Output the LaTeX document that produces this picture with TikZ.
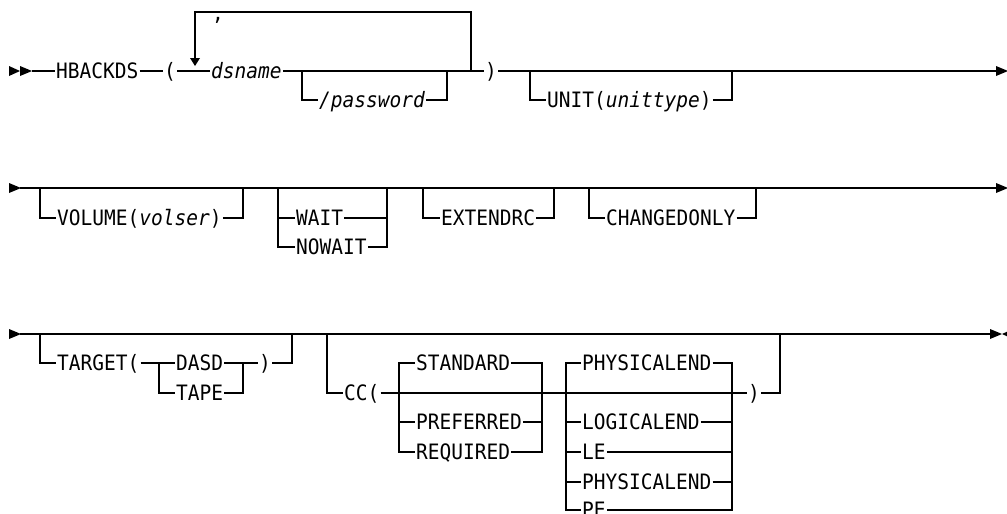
\documentclass[tikz,border=0pt]{standalone}
\usepackage{fontspec}
\setmonofont{DejaVu Sans Mono}[ItalicFont=* Oblique, FakeStretch=0.92]
\usetikzlibrary{arrows}

\tikzset{
  rail/.style={line width=1.2pt},
  tri/.style={fill=black},
  word/.style={inner xsep=1pt, inner ysep=0pt, anchor=west,
    text height=15.5pt, text depth=0pt,
    font=\ttfamily\fontsize{21.2}{22}\selectfont}
}

\begin{document}
\begin{tikzpicture}[x=1pt, y=-1pt]
        \useasboundingbox (0, 0) rectangle (1007, 514);

        % first line
        \fill[tri] (9, 66) -- (9, 76) -- (20, 71) -- cycle
            (20, 66) -- (20, 76) -- (32, 71) -- cycle;
        \coordinate (r1s) at (32, 71);
        \coordinate (r1e) at (996, 71);
        \node[word] (hbackds) at (55, 71) {HBACKDS};
        \node[word] (lpar) at (163, 71) {(};
        \node[word] (dsname) at (210, 71) {\textit{dsname}};
        \node[word] (pwd) at (318, 100) {\textit{/password}};
        \node[word] (rpar) at (484, 71) {)};
        \node[word] (unit) at (546, 100) {UNIT(\textit{unittype})};
        \draw[rail] (r1s) -- (hbackds) -- (lpar) -- (dsname) -- (rpar) -- (r1e);

        \coordinate (loopR) at (471, 71);
        \coordinate (loopT) at (195, 12);
        \coordinate (loopA) at (195, 58);
        \draw[rail] (loopR) |- (loopT) -- (loopA);
        \fill[tri] (190, 58) -- (200, 58) -- (195, 66) -- cycle;
        \node[word, anchor=base] (comma) at (218, 20) {,};

        \coordinate (pwdL) at (302, 71);
        \coordinate (pwdR) at (447, 71);
        \draw[rail] (pwdL) |- (pwd.west) (pwd.east) -| (pwdR);

        \coordinate (unitL) at (530, 71);
        \coordinate (unitR) at (732, 71);
        \draw[rail] (unitL) |- (unit.west) (unit.east) -| (unitR);
        \fill[tri] (996, 66) -- (996, 76) -- (1008, 71) -- cycle;

        % second line
        \fill[tri] (9, 183) -- (9, 193) -- (21, 188) -- cycle;
        \coordinate (r2s) at (20, 188);
        \coordinate (r2e) at (996, 188);
        \draw[rail] (r2s) -- (r2e);
        \fill[tri] (996, 183) -- (996, 193) -- (1008, 188) -- cycle;

        \node[word] (volume) at (56, 218) {VOLUME(\textit{volser})};
        \coordinate (volL) at (40, 188);
        \coordinate (volR) at (243, 188);
        \draw[rail] (volL) |- (volume.west) (volume.east) -| (volR);

        \node[word] (wait) at (295, 218) {WAIT};
        \node[word] (nowait) at (295, 247) {NOWAIT};
        \coordinate (waitL) at (278, 188);
        \coordinate (waitR) at (387, 188);
        \draw[rail] (waitL) |- (nowait.west) (nowait.east) -| (waitR);
        \draw[rail] (waitL |- wait) -- (wait.west) (wait.east) -- (waitR |- wait);

        \node[word] (extend) at (440, 218) {EXTENDRC};
        \coordinate (extL) at (423, 188);
        \coordinate (extR) at (554, 188);
        \draw[rail] (extL) |- (extend.west) (extend.east) -| (extR);

        \node[word] (changed) at (605, 218) {CHANGEDONLY};
        \coordinate (chgL) at (589, 188);
        \coordinate (chgR) at (756, 188);
        \draw[rail] (chgL) |- (changed.west) (changed.east) -| (chgR);

        % third line
        \fill[tri] (9, 329) -- (9, 339) -- (21, 334) -- cycle;
        \coordinate (r3s) at (20, 334);
        \coordinate (r3e) at (990, 334);
        \draw[rail] (r3s) -- (r3e);
        \fill[tri] (990, 329) -- (990, 339) -- (1002, 334) -- cycle
            (1013, 329) -- (1013, 339) -- (1002, 334) -- cycle;

        \node[word] (target) at (56, 363) {TARGET(};
        \node[word] (dasd) at (175, 363) {DASD};
        \node[word] (tape) at (175, 393) {TAPE};
        \node[word] (rpar2) at (258, 363) {)};
        \coordinate (tgtL) at (40, 334);
        \coordinate (tgtR) at (292, 334);
        \coordinate (devL) at (159, 363);
        \coordinate (devR) at (243, 363);
        \draw[rail] (tgtL) |- (target.west);
        \draw[rail] (target) -- (dasd) -- (rpar2) (rpar2.east) -| (tgtR);
        \draw[rail] (devL) |- (tape.west) (tape.east) -| (devR);

        \node[word] (cc) at (343, 393) {CC(};
        \node[word] (rpar3) at (747, 393) {)};
        \coordinate (ccL) at (327, 334);
        \coordinate (ccR) at (780, 334);
        \draw[rail] (ccL) |- (cc.west);
        \draw[rail] (cc) -- (rpar3) (rpar3.east) -| (ccR);

        \node[word] (standard) at (415, 363) {STANDARD};
        \node[word] (preferred) at (415, 422) {PREFERRED};
        \node[word] (required) at (415, 452) {REQUIRED};
        \coordinate (modeL) at (399, 393);
        \coordinate (modeR) at (542, 393);
        \draw[rail] (standard.west) -| (modeL) |- (required.west);
        \draw[rail] (standard.east) -| (modeR) |- (required.east);
        \draw[rail] (modeL |- preferred) -- (preferred.west)
            (preferred.east) -- (modeR |- preferred);

        \node[word] (phys) at (581, 363) {PHYSICALEND};
        \node[word] (logical) at (581, 422) {LOGICALEND};
        \node[word] (le) at (581, 452) {LE};
        \node[word] (physb) at (581, 482) {PHYSICALEND};
        \node[word] (pe) at (581, 510) {PE};
        \coordinate (endL) at (566, 393);
        \coordinate (endR) at (732, 393);
        \draw[rail] (phys.west) -| (endL) |- (pe.west);
        \draw[rail] (phys.east) -| (endR) |- (pe.east);
        \foreach \opt in {logical, le, physb} {
            \draw[rail] (endL |- \opt) -- (\opt.west) (\opt.east) -- (endR |- \opt);
        }
    \end{tikzpicture}
\end{document}
